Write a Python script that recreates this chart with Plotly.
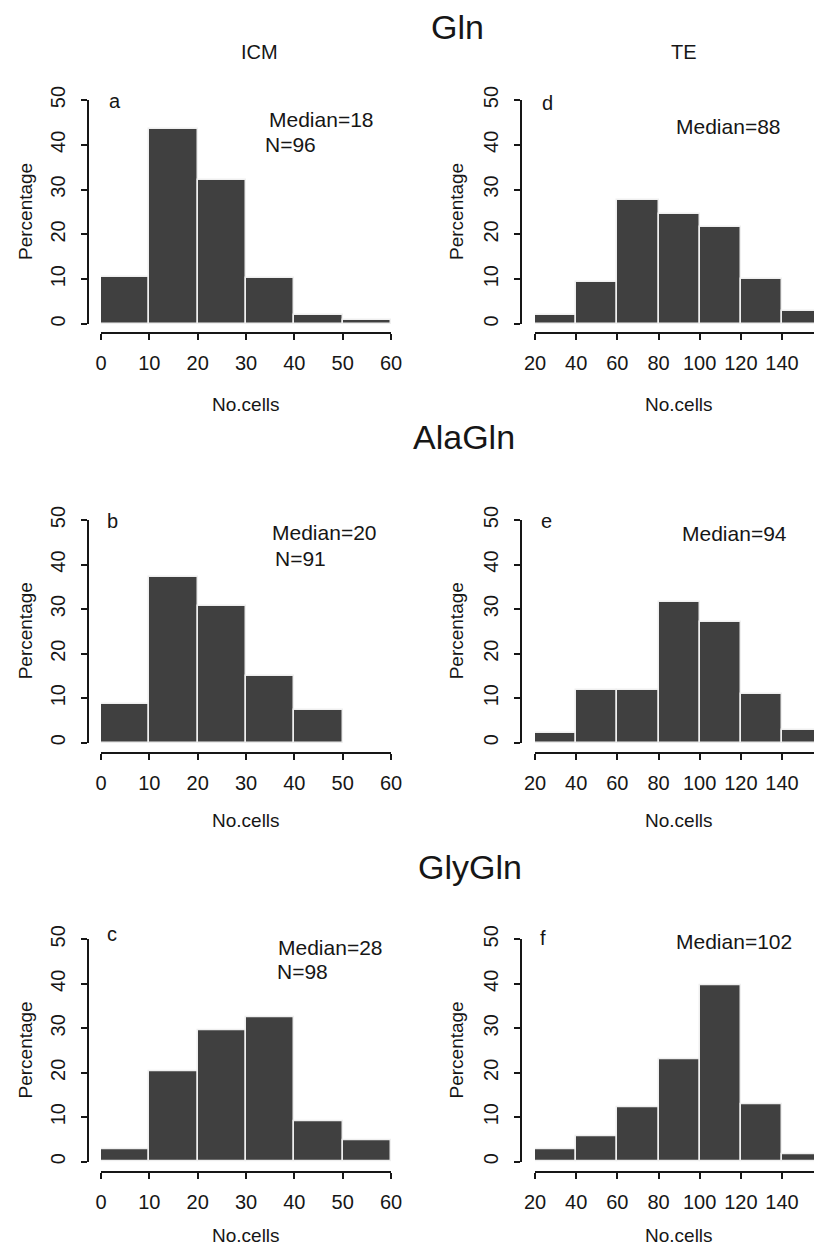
import plotly.graph_objects as go

W, H = 822, 1250          # target window
OFF = 8                   # default page body margin
FW, FH = W - OFF, H - OFF  # figure size so the page fits the window exactly

# ---- data ----
icm_edges = [0, 10, 20, 30, 40, 50, 60]
te_edges = [20, 40, 60, 80, 100, 120, 140, 160]

gln_icm = [10.4, 43.6, 32.2, 10.2, 2.1, 0.9]
alagln_icm = [8.6, 37.3, 30.8, 15.0, 7.4]
glygln_icm = [2.9, 20.3, 29.5, 32.4, 9.0, 4.9]

gln_te = [2.0, 9.3, 27.7, 24.5, 21.7, 10.0, 2.8]
alagln_te = [2.1, 11.8, 11.8, 31.5, 27.0, 11.0, 2.8]
glygln_te = [2.8, 5.8, 12.2, 23.1, 39.7, 13.0, 1.7]

y_ticks = [0, 10, 20, 30, 40, 50]
icm_ticks = [0, 10, 20, 30, 40, 50, 60]
te_ticks = [20, 40, 60, 80, 100, 120, 140]

panel_letters = ["a", "b", "c", "d", "e", "f"]
medians_icm = ["Median=18", "Median=20", "Median=28"]
n_icm = ["N=96", "N=91", "N=98"]
medians_te = ["Median=88", "Median=94", "Median=102"]
group_titles = ["Gln", "AlaGln", "GlyGln"]
col_titles = ["ICM", "TE"]

FONT = "Liberation Sans, Arial, sans-serif"
TXT = "#161616"
BAR = "#404040"


def px(x):
    return (x - OFF) / FW


def py(y):
    return 1 - (y - OFF) / FH


# layout geometry (pixels in the window)
rows = [(100, 324, 333), (520, 742.7, 752.7), (939.3, 1161.7, 1171.7)]
cols = [
    dict(x0=101, x1=391, yax=88, rng=[0, 60], ticks=icm_ticks, edges=icm_edges),
    dict(x0=535, x1=822, yax=521, rng=[20, 20 + (822 - 535) / (247 / 120)], ticks=te_ticks, edges=te_edges),
]
data = [[gln_icm, gln_te], [alagln_icm, alagln_te], [glygln_icm, glygln_te]]

fig = go.Figure()
layout = {}
k = 0
for c in range(2):
    for r in range(3):
        k += 1
        y50, y0, xay = rows[r]
        col = cols[c]
        vals = data[r][c]
        edges = col["edges"]
        centers = [(edges[i] + edges[i + 1]) / 2 for i in range(len(vals))]
        widths = [edges[i + 1] - edges[i] for i in range(len(vals))]
        fig.add_trace(go.Bar(
            x=centers, y=vals, width=widths,
            marker=dict(color=BAR, line=dict(color="#efefef", width=1.5)),
            xaxis=f"x{k}", yaxis=f"y{k}", showlegend=False, hoverinfo="skip",
        ))
        layout[f"xaxis{k}"] = dict(
            domain=[px(col["x0"]), min(1.0, px(col["x1"]))], range=col["rng"],
            anchor="free", position=py(xay),
            tickvals=col["ticks"], ticktext=[str(t) for t in col["ticks"]],
            showgrid=False, zeroline=False, showline=True,
            linecolor=TXT, linewidth=1.6, ticks="outside", ticklen=6,
            tickwidth=1.6, tickcolor=TXT, ticklabelstandoff=6,
            tickfont=dict(family=FONT, size=20, color=TXT),
        )
        layout[f"yaxis{k}"] = dict(
            domain=[py(y0), py(y50)], range=[0, 50],
            anchor="free", position=px(col["yax"]),
            tickvals=y_ticks, ticktext=[str(t) for t in y_ticks],
            tickangle=-90,
            showgrid=False, zeroline=False, showline=True,
            linecolor=TXT, linewidth=1.6, ticks="outside", ticklen=6,
            tickwidth=1.6, tickcolor=TXT, ticklabelstandoff=8,
            tickfont=dict(family=FONT, size=20, color=TXT),
        )

ann = []


def add_text(text, x, y, size=19, xanchor="left", yanchor="middle", angle=0):
    ann.append(dict(text=text, x=px(x), y=py(y), xref="paper", yref="paper",
                    xanchor=xanchor, yanchor=yanchor, showarrow=False,
                    textangle=angle, font=dict(family=FONT, size=size, color=TXT)))


# group titles and column titles
add_text(group_titles[0], 457, 27, size=34, xanchor="center")
add_text(group_titles[1], 464, 437, size=34, xanchor="center")
add_text(group_titles[2], 470, 867, size=34, xanchor="center")
add_text(col_titles[0], 259, 52, size=20, xanchor="center")
add_text(col_titles[1], 684, 52, size=20, xanchor="center")

# axis titles
xtitle_y = [405, 820, 1235]
for r in range(3):
    y50, y0, _ = rows[r]
    for c in range(2):
        add_text("No.cells", (101 + 391) / 2 if c == 0 else 679, xtitle_y[r], xanchor="center")
        add_text("Percentage", 25 if c == 0 else 456, (y50 + y0) / 2, xanchor="center", angle=-90)

# panel letters and medians
letter_pos = [(107, 101), (105, 521), (105, 934), (540, 103), (539, 521), (538, 938)]
for (x, y), t in zip(letter_pos, panel_letters):
    add_text(t, x, y, size=20)

med_icm_pos = [(267, 120), (270, 532), (276, 947)]
n_icm_pos = [(263, 144), (273, 558), (275, 971)]
med_te_pos = [(674, 127), (680, 533), (674, 941)]
for i in range(3):
    add_text(medians_icm[i], *med_icm_pos[i], size=21)
    add_text(n_icm[i], *n_icm_pos[i], size=21)
    add_text(medians_te[i], *med_te_pos[i], size=21)

layout.update(dict(
    width=FW, height=FH, margin=dict(l=0, r=0, t=0, b=0, pad=0, autoexpand=False),
    paper_bgcolor="white", plot_bgcolor="white",
    bargap=0, annotations=ann, showlegend=False,
))
fig.update_layout(**layout)
fig.write_html("out.html")
